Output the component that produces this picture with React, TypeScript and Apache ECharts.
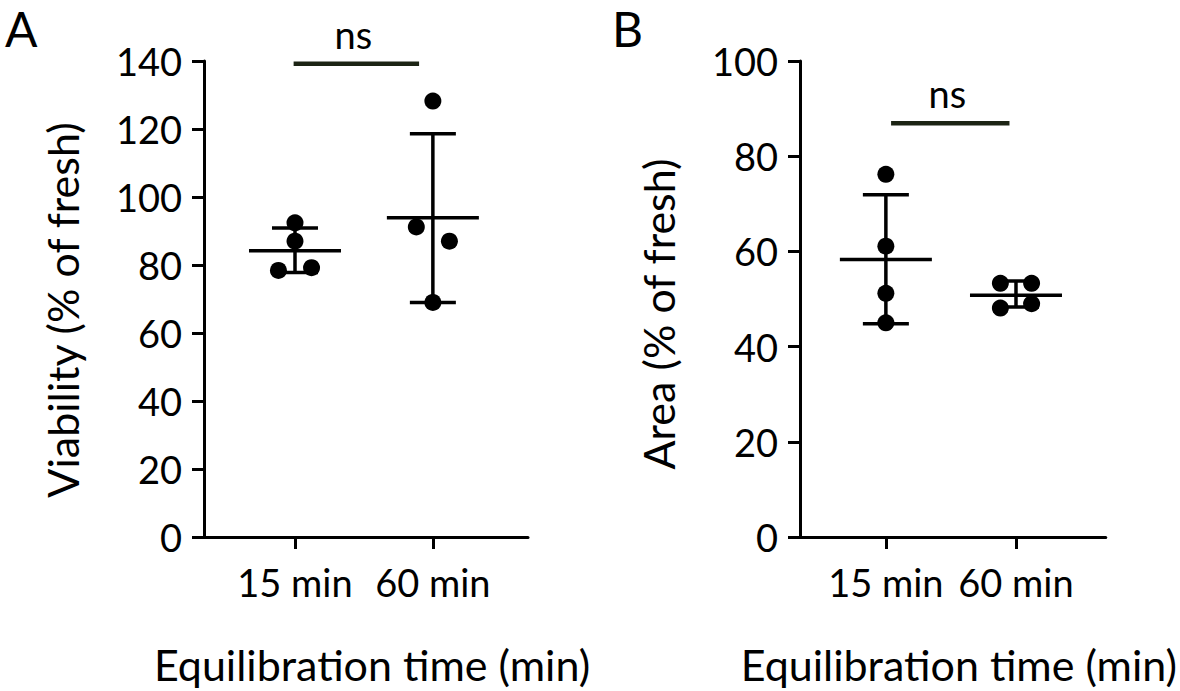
import React, { useEffect, useRef } from "react";
import * as echarts from "echarts";

// Categories and tick labels
const categories = ["15 min", "60 min"];
const categoryX = [1, 2];
const yTicksA = [0, 20, 40, 60, 80, 100, 120, 140];
const yTicksB = [0, 20, 40, 60, 80, 100];

// Panel A: Viability (% of fresh) – individual points [x (jittered), y]
const pointsA15 = [[1, 92.4], [1, 87.0], [0.88, 78.4], [1.12, 79.2]];
const pointsA60 = [[2, 128.2], [1.88, 91.2], [2.12, 87.0], [2, 69.0]];
// Panel A summary: mean, lower (mean-SD), upper (mean+SD)
const meanA = [84.2, 93.9];
const lowerA = [77.8, 69.0];
const upperA = [90.9, 118.6];

// Panel B: Area (% of fresh)
const pointsB15 = [[1, 76.2], [1, 61.1], [1, 51.2], [1, 45.0]];
const pointsB60 = [[1.88, 53.3], [2.12, 53.3], [1.88, 48.1], [2.12, 49.0]];
const meanB = [58.3, 50.8];
const lowerB = [44.8, 48.3];
const upperB = [71.9, 53.8];

// Significance brackets [x start, x end, y]
const sigA = [[0.99, 1.9, 139.2]];
const sigB = [[1.04, 1.95, 86.9]];
const sigLabel = "ns";

const FONT = "Lato";
const FS = 38;
const TITLE_FS = 43;

function summaryData(mean: number[], lower: number[], upper: number[]) {
  return categoryX.map((x, i) => [x, mean[i], lower[i], upper[i]]);
}

const errRender = (params: any, api: any) => {
  const x = api.value(0);
  const pm = api.coord([x, api.value(1)]);
  const plo = api.coord([x, api.value(2)]);
  const phi = api.coord([x, api.value(3)]);
  const st = { stroke: "#000", lineWidth: 3.5 };
  const mw = 46;
  const cw = 23;
  return {
    type: "group",
    children: [
      { type: "line", shape: { x1: pm[0] - mw, y1: pm[1], x2: pm[0] + mw, y2: pm[1] }, style: st },
      { type: "line", shape: { x1: plo[0], y1: plo[1], x2: phi[0], y2: phi[1] }, style: st },
      { type: "line", shape: { x1: phi[0] - cw, y1: phi[1], x2: phi[0] + cw, y2: phi[1] }, style: st },
      { type: "line", shape: { x1: plo[0] - cw, y1: plo[1], x2: plo[0] + cw, y2: plo[1] }, style: st },
    ],
  };
};

const sigRender = (params: any, api: any) => {
  const y = api.value(2);
  const p1 = api.coord([api.value(0), y]);
  const p2 = api.coord([api.value(1), y]);
  return {
    type: "group",
    children: [
      {
        type: "line",
        shape: { x1: p1[0], y1: p1[1], x2: p2[0], y2: p2[1] },
        style: { stroke: "#1c2414", lineWidth: 4.5 },
      },
      {
        type: "text",
        x: (p1[0] + p2[0]) / 2 - 3,
        y: p1[1] - 11,
        style: {
          text: sigLabel,
          fontSize: FS,
          fontFamily: FONT,
          fill: "#000",
          align: "center",
          verticalAlign: "bottom",
        },
      },
    ],
  };
};

function xAxis(gridIndex: number) {
  return {
    type: "value",
    gridIndex,
    min: 0.34,
    max: 2.69,
    axisLine: { show: true, onZero: false, lineStyle: { color: "#000", width: 3 } },
    axisTick: { show: true, customValues: categoryX, length: 12, lineStyle: { color: "#000", width: 3 } },
    axisLabel: {
      show: true,
      customValues: categoryX,
      formatter: (v: number) => categories[Math.round(v) - 1] ?? "",
      fontSize: FS,
      fontFamily: FONT,
      color: "#000",
      margin: 26,
    },
    splitLine: { show: false },
    name: "Equilibration time (min)",
    nameLocation: "middle",
    nameGap: 106,
    nameTextStyle: { fontSize: TITLE_FS, fontFamily: FONT, color: "#000", padding: [0, 0, 0, 12] },
  };
}

function yAxis(gridIndex: number, ticks: number[], name: string, shift: number) {
  return {
    type: "value",
    gridIndex,
    min: ticks[0],
    max: ticks[ticks.length - 1],
    interval: ticks[1] - ticks[0],
    axisLine: { show: true, lineStyle: { color: "#000", width: 3 } },
    axisTick: { show: true, length: 12, lineStyle: { color: "#000", width: 3 } },
    axisLabel: { fontSize: FS, fontFamily: FONT, color: "#000", margin: 22 },
    splitLine: { show: false },
    name,
    nameLocation: "middle",
    nameGap: 120,
    nameRotate: 90,
    nameTextStyle: { fontSize: TITLE_FS, fontFamily: FONT, color: "#000", padding: [0, shift, 0, 0] },
  };
}

export default function App() {
  const ref = useRef<HTMLDivElement>(null);
  useEffect(() => {
    if (!ref.current) return;
    const chart = echarts.init(ref.current, undefined, { renderer: "svg" });
    const scatterStyle = { color: "#000", opacity: 1 };
    chart.setOption({
      animation: false,
      backgroundColor: "#fff",
      textStyle: { fontFamily: FONT },
      grid: [
        { left: 204, right: 652, top: 61, bottom: 151 },
        { left: 800, right: 55, top: 61, bottom: 151 },
      ],
      xAxis: [xAxis(0), xAxis(1)],
      yAxis: [
        yAxis(0, yTicksA, "Viability (% of fresh)", 22),
        yAxis(1, yTicksB, "Area (% of fresh)", 30),
      ],
      graphic: [
        { type: "text", left: 5, top: 4, style: { text: "A", fontSize: 48, fontFamily: FONT, fill: "#000" } },
        { type: "text", left: 612, top: 4, style: { text: "B", fontSize: 48, fontFamily: FONT, fill: "#000" } },
      ],
      series: [
        { type: "scatter", xAxisIndex: 0, yAxisIndex: 0, data: pointsA15, symbolSize: 17, itemStyle: scatterStyle, z: 3 },
        { type: "scatter", xAxisIndex: 0, yAxisIndex: 0, data: pointsA60, symbolSize: 17, itemStyle: scatterStyle, z: 3 },
        { type: "scatter", xAxisIndex: 1, yAxisIndex: 1, data: pointsB15, symbolSize: 17, itemStyle: scatterStyle, z: 3 },
        { type: "scatter", xAxisIndex: 1, yAxisIndex: 1, data: pointsB60, symbolSize: 17, itemStyle: scatterStyle, z: 3 },
        { type: "custom", xAxisIndex: 0, yAxisIndex: 0, data: summaryData(meanA, lowerA, upperA), renderItem: errRender, z: 4 },
        { type: "custom", xAxisIndex: 1, yAxisIndex: 1, data: summaryData(meanB, lowerB, upperB), renderItem: errRender, z: 4 },
        { type: "custom", xAxisIndex: 0, yAxisIndex: 0, data: sigA, renderItem: sigRender, clip: false, z: 4 },
        { type: "custom", xAxisIndex: 1, yAxisIndex: 1, data: sigB, renderItem: sigRender, clip: false, z: 4 },
      ],
    });
    return () => chart.dispose();
  }, []);
  return (
    <div
      ref={ref}
      style={{ position: "fixed", left: 0, top: 0, width: 1180, height: 691, background: "#fff" }}
    />
  );
}
